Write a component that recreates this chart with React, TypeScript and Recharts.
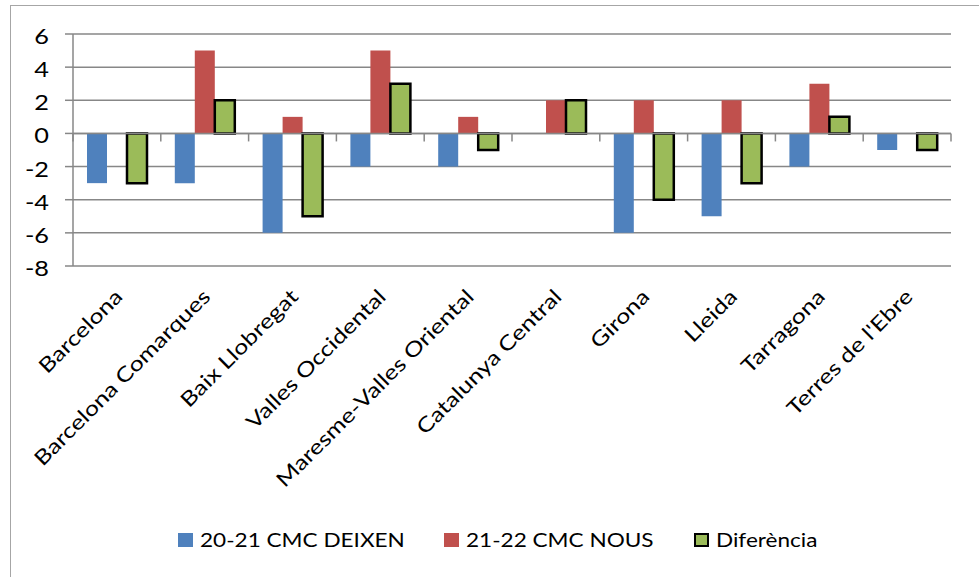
import { BarChart, Bar, XAxis, YAxis, CartesianGrid, ReferenceLine, Legend } from 'recharts'

const CATEGORIES = [
  'Barcelona', 'Barcelona Comarques', 'Baix Llobregat', 'Valles Occidental', 'Maresme-Valles Oriental',
  'Catalunya Central', 'Girona', 'Lleida', 'Tarragona', "Terres de l'Ebre",
]
const DEIXEN = [-3, -3, -6, -2, -2, 0, -6, -5, -2, -1]
const NOUS = [0, 5, 1, 5, 1, 2, 2, 2, 3, 0]
const DIFERENCIA = [-3, 2, -5, 3, -1, 2, -4, -3, 1, -1]
const Y_TICKS = [-8, -6, -4, -2, 0, 2, 4, 6]

const SERIES = [
  { key: 'deixen', name: '20-21 CMC DEIXEN', fill: '#4F81BD', stroke: 'none' },
  { key: 'nous', name: '21-22 CMC NOUS', fill: '#C0504D', stroke: 'none' },
  { key: 'dif', name: 'Diferència', fill: '#9BBB59', stroke: '#000' },
]

const data = CATEGORIES.map((name, i) => ({
  name, deixen: DEIXEN[i], nous: NOUS[i], dif: DIFERENCIA[i],
}))

const FONT = 'Lato, Carlito, Calibri, sans-serif'
const GRID = '#878787'
// the reference text is rendered wide (Calibri stretched), so the Lato glyphs get a horizontal scale
const TEXT_SX = 1.22

function CatTick({ x, y, payload }: any) {
  return (
    <g transform={`translate(${x + 7},${y + 24}) rotate(-45) scale(${TEXT_SX},1)`}>
      <text textAnchor="end" fontSize={20.5} fill="#000" fontFamily={FONT}>{payload.value}</text>
    </g>
  )
}

function ValueTick({ x, y, payload }: any) {
  return (
    <g transform={`translate(${x},${y + 2}) scale(1.15,1)`}>
      <text textAnchor="end" dy="0.36em" fontSize={22} fill="#000" fontFamily={FONT}>{payload.value}</text>
    </g>
  )
}

// zero axis line with small tick marks between categories
function ZeroAxis(props: any) {
  const { x1, y1, x2, y2 } = props
  const n = CATEGORIES.length
  const step = (x2 - x1) / n
  return (
    <g>
      <line x1={x1} y1={y1} x2={x2} y2={y2} stroke={GRID} strokeWidth={1.5} />
      {Array.from({ length: n + 1 }, (_, i) => (
        <line key={i} x1={x1 + i * step} x2={x1 + i * step} y1={y1} y2={y1 + 8} stroke={GRID} strokeWidth={1.5} />
      ))}
    </g>
  )
}

const LEGEND_LEFT = [178, 444, 694]

function LegendBox() {
  return (
    <div style={{ position: 'relative', height: 24, fontFamily: FONT, fontSize: 18.5, color: '#000', lineHeight: '24px' }}>
      {SERIES.map((s, i) => (
        <div key={s.key} style={{ position: 'absolute', left: LEGEND_LEFT[i], top: 0, display: 'flex', alignItems: 'center', whiteSpace: 'nowrap' }}>
          <span style={{
            display: 'inline-block', boxSizing: 'border-box', width: 15, height: 14,
            background: s.fill, border: s.stroke === 'none' ? 'none' : '2.5px solid #000',
          }} />
          <span style={{ display: 'inline-block', marginLeft: 7, transform: `scaleX(${TEXT_SX})`, transformOrigin: '0 50%' }}>{s.name}</span>
        </div>
      ))}
    </div>
  )
}

export default function App() {
  return (
    <div style={{ position: 'fixed', left: 0, top: 0, width: 979, height: 577, overflow: 'hidden', background: '#fff' }}>
      <div style={{ position: 'absolute', left: 10, top: 5, width: 1000, height: 600, border: '1.5px solid #a6a6a6' }} />
      <div style={{ position: 'absolute', left: 0, top: 0 }}>
        <BarChart width={979} height={577} data={data} margin={{ top: 34, right: 28, left: 0, bottom: 111 }}
          barSize={20} barGap={0} barCategoryGap={14}>
          <CartesianGrid horizontal vertical={false} stroke={GRID} strokeWidth={1.5} />
          <XAxis dataKey="name" axisLine={false} tickLine={false} interval={0} height={200} tick={<CatTick />} />
          <YAxis domain={[-8, 6]} ticks={Y_TICKS} width={73} interval={0}
            axisLine={{ stroke: GRID, strokeWidth: 1.5 }} tickLine={{ stroke: GRID, strokeWidth: 1.5 }} tickSize={8} tickMargin={16}
            tick={<ValueTick />} />
          <ReferenceLine y={0} shape={<ZeroAxis />} />
          {SERIES.map(s => (
            <Bar key={s.key} dataKey={s.key} name={s.name} fill={s.fill}
              stroke={s.stroke} strokeWidth={s.stroke === 'none' ? 0 : 2.5} isAnimationActive={false} />
          ))}
          <Legend verticalAlign="middle" align="center" content={<LegendBox />}
            wrapperStyle={{ position: 'absolute', top: 528, left: 0, width: 979 }} />
        </BarChart>
      </div>
    </div>
  )
}
